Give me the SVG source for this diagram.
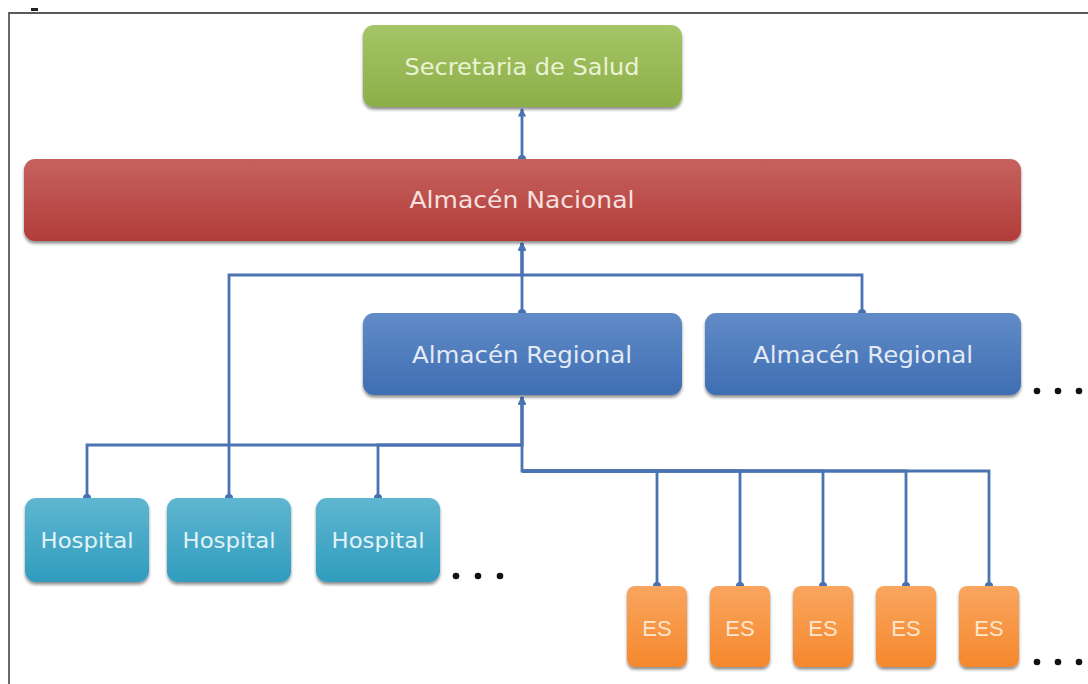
<svg xmlns="http://www.w3.org/2000/svg" width="1088" height="684" viewBox="0 0 1088 684">
<style>
.lbl{font-family:"DejaVu Sans","Liberation Sans",sans-serif;text-anchor:middle;}
.big{font-size:23px;}
.hos{font-size:21px;fill:#e2f3f8;}
.es{font-family:"Liberation Sans Narrow","Liberation Sans",sans-serif;font-size:22px;fill:#fde6cf;text-anchor:middle;}
.conn{fill:none;stroke:#4a73b2;stroke-width:2.8;stroke-linejoin:miter;}
.dot{fill:#111;}
</style>
<defs>
<linearGradient id="gGreen" x1="0" y1="0" x2="0" y2="1"><stop offset="0" stop-color="#a6c567"/><stop offset="1" stop-color="#8cae48"/></linearGradient>
<linearGradient id="gRed" x1="0" y1="0" x2="0" y2="1"><stop offset="0" stop-color="#c6625f"/><stop offset="1" stop-color="#b13c39"/></linearGradient>
<linearGradient id="gBlue" x1="0" y1="0" x2="0" y2="1"><stop offset="0" stop-color="#618bc7"/><stop offset="1" stop-color="#3f6eb3"/></linearGradient>
<linearGradient id="gTeal" x1="0" y1="0" x2="0" y2="1"><stop offset="0" stop-color="#5fb6d0"/><stop offset="1" stop-color="#309cbe"/></linearGradient>
<linearGradient id="gOrange" x1="0" y1="0" x2="0" y2="1"><stop offset="0" stop-color="#f9a55f"/><stop offset="1" stop-color="#f5882c"/></linearGradient>
<filter id="sh" x="-10%" y="-10%" width="120%" height="130%"><feDropShadow dx="0" dy="2.5" stdDeviation="1.6" flood-color="#000" flood-opacity="0.45"/></filter>
<marker id="arr" viewBox="0 0 10 10" refX="9" refY="5" markerWidth="3" markerHeight="3" orient="auto" markerUnits="strokeWidth"><path d="M0,0 L10,5 L0,10 z" fill="#4a73b2"/></marker>
<marker id="ball" viewBox="0 0 10 10" refX="5" refY="5" markerWidth="3" markerHeight="3" orient="auto" markerUnits="strokeWidth"><circle cx="5" cy="5" r="5" fill="#4a73b2"/></marker>
</defs>
<rect width="1088" height="684" fill="#ffffff"/>
<g id="frame">
<path d="M1088,13 L9,13 L9,684" fill="none" stroke="#5a5a5a" stroke-width="1.8"/>
<rect x="31" y="8" width="7" height="3" fill="#222"/>
</g>
<g id="connectors">
<path class="conn" d="M522,159 L522,109" marker-start="url(#ball)" marker-end="url(#arr)"/>
<path class="conn" d="M522,313 L522,243" marker-start="url(#ball)" marker-end="url(#arr)"/>
<path class="conn" d="M862,313 L862,275 L522,275 L522,243" marker-start="url(#ball)" marker-end="url(#arr)"/>
<path class="conn" d="M229,498 L229,275 L522,275 L522,243" marker-start="url(#ball)" marker-end="url(#arr)"/>
<path class="conn" d="M87,498 L87,445 L522,445 L522,397" marker-start="url(#ball)" marker-end="url(#arr)"/>
<path class="conn" d="M378,498 L378,445 L522,445 L522,397" marker-start="url(#ball)" marker-end="url(#arr)"/>
<path class="conn" d="M657,586 L657,471 L522,471 L522,397" marker-start="url(#ball)" marker-end="url(#arr)"/>
<path class="conn" d="M740,586 L740,471 L522,471" marker-start="url(#ball)"/>
<path class="conn" d="M823,586 L823,471 L522,471" marker-start="url(#ball)"/>
<path class="conn" d="M906,586 L906,471 L522,471" marker-start="url(#ball)"/>
<path class="conn" d="M989,586 L989,471 L522,471" marker-start="url(#ball)"/>
</g>
<g id="secretaria">
<rect x="363" y="25" width="319" height="82" rx="11" fill="url(#gGreen)" filter="url(#sh)"/>
<text class="lbl big" x="522" y="75" fill="#eaf3d6" textLength="235" lengthAdjust="spacingAndGlyphs">Secretaria de Salud</text>
</g>
<g id="nacional">
<rect x="24" y="159" width="997" height="82" rx="11" fill="url(#gRed)" filter="url(#sh)"/>
<text class="lbl big" x="522" y="208" fill="#f7e0df" textLength="225" lengthAdjust="spacingAndGlyphs">Almacén Nacional</text>
</g>
<g id="regional1">
<rect x="363" y="313" width="319" height="82" rx="11" fill="url(#gBlue)" filter="url(#sh)"/>
<text class="lbl big" x="522" y="363" fill="#e3eaf5" textLength="220" lengthAdjust="spacingAndGlyphs">Almacén Regional</text>
</g>
<g id="regional2">
<rect x="705" y="313" width="316" height="82" rx="11" fill="url(#gBlue)" filter="url(#sh)"/>
<text class="lbl big" x="863" y="363" fill="#e3eaf5" textLength="220" lengthAdjust="spacingAndGlyphs">Almacén Regional</text>
</g>
<g id="more-regional">
<circle class="dot" cx="1037" cy="391" r="3.3"/><circle class="dot" cx="1058" cy="391" r="3.3"/><circle class="dot" cx="1079" cy="391" r="3.3"/>
</g>
<g id="hospital1">
<rect x="25" y="498" width="124" height="84" rx="11" fill="url(#gTeal)" filter="url(#sh)"/>
<text class="lbl hos" x="87" y="548" textLength="93" lengthAdjust="spacingAndGlyphs">Hospital</text>
</g>
<g id="hospital2">
<rect x="167" y="498" width="124" height="84" rx="11" fill="url(#gTeal)" filter="url(#sh)"/>
<text class="lbl hos" x="229" y="548" textLength="93" lengthAdjust="spacingAndGlyphs">Hospital</text>
</g>
<g id="hospital3">
<rect x="316" y="498" width="124" height="84" rx="11" fill="url(#gTeal)" filter="url(#sh)"/>
<text class="lbl hos" x="378" y="548" textLength="93" lengthAdjust="spacingAndGlyphs">Hospital</text>
</g>
<g id="more-hospital">
<circle class="dot" cx="456" cy="576" r="3.3"/><circle class="dot" cx="478" cy="576" r="3.3"/><circle class="dot" cx="500" cy="576" r="3.3"/>
</g>
<g id="es1"><rect x="627" y="586" width="60" height="81" rx="8" fill="url(#gOrange)" filter="url(#sh)"/><text class="es" x="657" y="636">ES</text></g>
<g id="es2"><rect x="710" y="586" width="60" height="81" rx="8" fill="url(#gOrange)" filter="url(#sh)"/><text class="es" x="740" y="636">ES</text></g>
<g id="es3"><rect x="793" y="586" width="60" height="81" rx="8" fill="url(#gOrange)" filter="url(#sh)"/><text class="es" x="823" y="636">ES</text></g>
<g id="es4"><rect x="876" y="586" width="60" height="81" rx="8" fill="url(#gOrange)" filter="url(#sh)"/><text class="es" x="906" y="636">ES</text></g>
<g id="es5"><rect x="959" y="586" width="60" height="81" rx="8" fill="url(#gOrange)" filter="url(#sh)"/><text class="es" x="989" y="636">ES</text></g>
<g id="more-es">
<circle class="dot" cx="1037" cy="662" r="3.3"/><circle class="dot" cx="1058" cy="662" r="3.3"/><circle class="dot" cx="1079" cy="662" r="3.3"/>
</g>
</svg>
